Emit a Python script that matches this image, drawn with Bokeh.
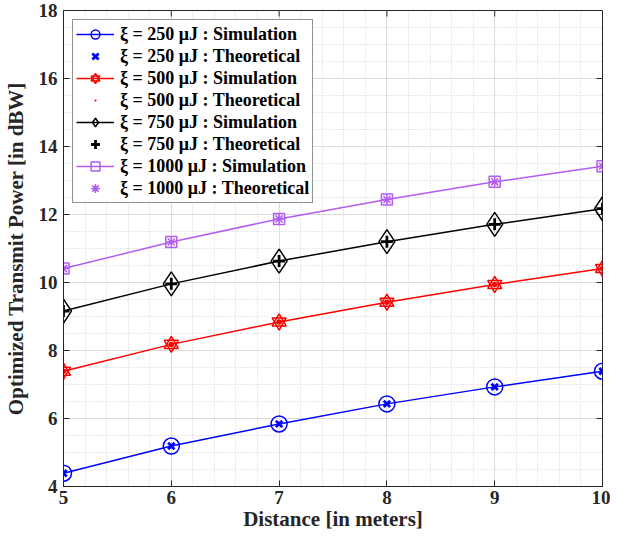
from bokeh.plotting import figure
from bokeh.models import FixedTicker, Legend, LegendItem, Range1d
from bokeh.embed import file_html
from bokeh.resources import INLINE

distance = [5, 6, 7, 8, 9, 10]

sim_250 = [4.39, 5.19, 5.84, 6.43, 6.93, 7.39]
theo_250 = [4.39, 5.19, 5.84, 6.43, 6.93, 7.39]
sim_500 = [7.39, 8.18, 8.84, 9.42, 9.94, 10.41]
theo_500 = [7.39, 8.18, 8.84, 9.42, 9.94, 10.41]
sim_750 = [9.16, 9.96, 10.63, 11.20, 11.71, 12.17]
theo_750 = [9.16, 9.96, 10.63, 11.20, 11.71, 12.17]
sim_1000 = [10.41, 11.19, 11.87, 12.44, 12.96, 13.42]
theo_1000 = [10.41, 11.19, 11.87, 12.44, 12.96, 13.42]

x_ticks = [5, 6, 7, 8, 9, 10]
x_minor = [5 + 0.2 * i for i in range(26)]
y_ticks = [4, 6, 8, 10, 12, 14, 16, 18]
y_minor = [4 + 0.5 * i for i in range(29)]

labels = [
    "\u03be = 250 \u03bcJ : Simulation",
    "\u03be = 250 \u03bcJ : Theoretical",
    "\u03be = 500 \u03bcJ : Simulation",
    "\u03be = 500 \u03bcJ : Theoretical",
    "\u03be = 750 \u03bcJ : Simulation",
    "\u03be = 750 \u03bcJ : Theoretical",
    "\u03be = 1000 \u03bcJ : Simulation",
    "\u03be = 1000 \u03bcJ : Theoretical",
]

BLUE = "#0000FF"
RED = "#FF0000"
BLACK = "#000000"
PURPLE = "#B35CF2"
AXC = "#262626"
FONT = "Liberation Serif"

W, H = 610, 540
BL, BR, BT, BB = 54, 8, 10, 54
XMIN, XMAX, YMIN, YMAX = 5, 10, 4, 18

p = figure(width=W, height=H, output_backend="svg", toolbar_location=None,
           x_range=Range1d(XMIN, XMAX), y_range=Range1d(YMIN, YMAX),
           min_border_left=BL, min_border_right=BR, min_border_top=BT, min_border_bottom=BB)
p.background_fill_color = "white"
p.border_fill_color = "white"
p.outline_line_color = AXC
p.outline_line_width = 1

p.xaxis.ticker = FixedTicker(ticks=x_ticks, minor_ticks=x_minor)
p.yaxis.ticker = FixedTicker(ticks=y_ticks, minor_ticks=y_minor)
p.xaxis.axis_label = "Distance [in meters]"
p.yaxis.axis_label = "Optimized Transmit Power [in dBW]"
for ax in (p.xaxis, p.yaxis):
    ax.axis_label_text_font = FONT
    ax.axis_label_text_font_style = "bold"
    ax.axis_label_text_font_size = "21px"
    ax.axis_label_text_color = AXC
    ax.major_label_text_font = FONT
    ax.major_label_text_font_style = "bold"
    ax.major_label_text_font_size = "19px"
    ax.major_label_text_color = AXC
    ax.major_tick_in = 6
    ax.major_tick_out = 0
    ax.minor_tick_in = 0
    ax.minor_tick_out = 0
    ax.axis_line_color = AXC
    ax.major_tick_line_color = AXC
p.xaxis.axis_label_standoff = 0
p.yaxis.axis_label_standoff = 8
p.xaxis.major_label_standoff = 4
p.yaxis.major_label_standoff = 6

p.xgrid.grid_line_color = "#dcdcdc"
p.ygrid.grid_line_color = "#dcdcdc"
p.xgrid.minor_grid_line_color = "#d0d0d0"
p.ygrid.minor_grid_line_color = "#d0d0d0"
p.xgrid.minor_grid_line_dash = "1 2"
p.ygrid.minor_grid_line_dash = "1 2"

# mirrored tick marks on the top and right edges of the box
fw = W - BL - BR
fh = H - BT - BB
tx = 6 * (XMAX - XMIN) / fw
ty = 6 * (YMAX - YMIN) / fh
p.segment(x0=x_ticks, x1=x_ticks, y0=[YMAX] * len(x_ticks), y1=[YMAX - ty] * len(x_ticks),
          line_color=AXC, line_width=1)
p.segment(x0=[XMAX] * len(y_ticks), x1=[XMAX - tx] * len(y_ticks), y0=y_ticks, y1=y_ticks,
          line_color=AXC, line_width=1)

LW = 1.5
items = []

# 250
l = p.line(distance, sim_250, line_color=BLUE, line_width=LW)
m = p.scatter(distance, sim_250, marker="circle", size=16, fill_color=None, line_color=BLUE, line_width=LW)
items.append(LegendItem(label=labels[0], renderers=[l, m]))
t = p.scatter(distance, theo_250, marker="x", size=9, line_color=BLUE, line_width=2.8)
items.append(LegendItem(label=labels[1], renderers=[t]))

# 500
l = p.line(distance, sim_500, line_color=RED, line_width=LW)
m1 = p.scatter(distance, sim_500, marker="triangle", size=14, fill_color=None, line_color=RED, line_width=LW)
m2 = p.scatter(distance, sim_500, marker="inverted_triangle", size=14, fill_color=None, line_color=RED, line_width=LW)
items.append(LegendItem(label=labels[2], renderers=[l, m1, m2]))
t = p.scatter(distance, theo_500, marker="dot", size=22, fill_color=RED, line_color=RED)
items.append(LegendItem(label=labels[3], renderers=[t]))

# 750
l = p.line(distance, sim_750, line_color=BLACK, line_width=LW)
m = p.scatter(distance, sim_750, marker="diamond", size=24, fill_color=None, line_color=BLACK, line_width=LW)
items.append(LegendItem(label=labels[4], renderers=[l, m]))
t = p.scatter(distance, theo_750, marker="cross", size=12, line_color=BLACK, line_width=2.8)
items.append(LegendItem(label=labels[5], renderers=[t]))

# 1000
l = p.line(distance, sim_1000, line_color=PURPLE, line_width=LW)
m = p.scatter(distance, sim_1000, marker="square", size=11, fill_color=None, line_color=PURPLE, line_width=LW)
items.append(LegendItem(label=labels[6], renderers=[l, m]))
t = p.scatter(distance, theo_1000, marker="asterisk", size=10, line_color=PURPLE, line_width=1.5)
items.append(LegendItem(label=labels[7], renderers=[t]))

legend = Legend(items=items, location="top_left", margin=9,
                label_text_font=FONT, label_text_font_style="bold",
                label_text_font_size="18px", label_text_color="black",
                glyph_width=38, glyph_height=22, label_height=22, spacing=0,
                padding=3, label_standoff=6,
                border_line_color=AXC, border_line_width=1,
                background_fill_color="white", background_fill_alpha=1)
p.add_layout(legend)

open("out.html", "w").write(file_html(p, INLINE))
